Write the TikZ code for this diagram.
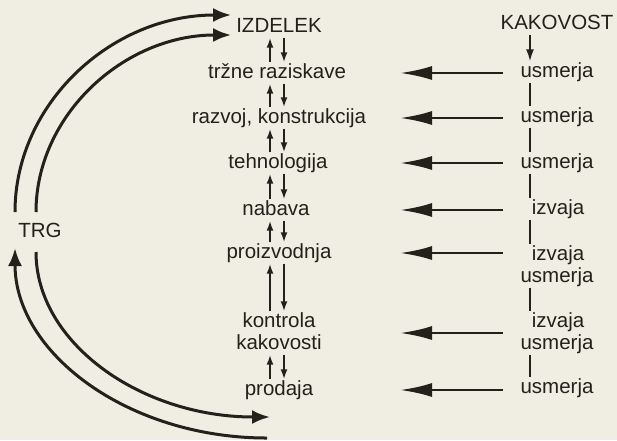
\documentclass[tikz,border=0pt]{standalone}
\usepackage{fontspec}
\setmainfont{Liberation Sans}
\usepackage{tikz}
\usetikzlibrary{arrows.meta,calc}
\definecolor{ink}{RGB}{36,32,28}
\definecolor{paper}{RGB}{240,237,226}
\tikzstyle{stage}=[font=\fontsize{20.5}{24}\selectfont,text=ink,inner sep=1pt,text height=15pt,text depth=4pt]
\tikzstyle{flow} = [draw=ink,line width=1.8pt,-{Latex[length=10pt,width=7pt]}]
\tikzstyle{steer} = [draw=ink,line width=2.8pt,-{Latex[length=32pt,width=14pt]}]
\tikzstyle{market} = [draw=ink,line width=3pt,-{Latex[length=18pt,width=14pt]}]
\tikzstyle{link} = [draw=ink,line width=1.8pt]

\begin{document}
\begin{tikzpicture}[x=1pt,y=-1pt]
    \fill[paper] (0,0) rectangle (617,440);
    \useasboundingbox (0,0) rectangle (617,440);
    % The stages of the product, top to bottom
    \foreach \pos/ \name/ \txt in {{(279,27)/c0/IZDELEK},{(277,73)/c1/tržne raziskave},
        {(279,118)/c2/{razvoj, konstrukcija}},{(278,163)/c3/tehnologija},{(276,210)/c4/nabava},
        {(279,253)/c5/proizvodnja},{(279,322)/c6/kontrola},{(279,344)/c7/kakovosti},{(279,390)/c8/prodaja}}
        \node[stage] (\name) at \pos {\txt};

    % What quality does at each stage
    \foreach \pos/ \name/ \txt in {{(557,24)/k0/KAKOVOST},{(557,72)/k1/usmerja},{(557,117)/k2/usmerja},
        {(557,163)/k3/usmerja},{(558,209)/k4/izvaja},{(558,255)/k5/izvaja},{(557,277)/k6/usmerja},
        {(558,322)/k7/izvaja},{(557,344)/k8/usmerja},{(557,388)/k9/usmerja}}
        \node[stage] (\name) at \pos {\txt};

    \node[stage] (trg) at (40,232) {TRG};

    % Columns for the arrows
    \coordinate (up) at (270,0);
    \coordinate (dn) at (284,0);
    \coordinate (rl) at (530,0);
    \coordinate (tail) at (503,0);
    \coordinate (tip) at (400,0);
    \coordinate (qc) at ($(c6)!0.5!(c7)$);

    % Up and down between the stages
    \foreach \a/ \b in {c0/c1,c1/c2,c2/c3,c3/c4,c4/c5,c5/c6,c7/c8} {
        \draw[flow] (\b.north -| up) -- (\a.south -| up);
        \draw[flow] (\a.south -| dn) -- (\b.north -| dn);
    }

    % Quality column
    \draw[link,-{Latex[length=12pt,width=8pt]}] (k0.south -| rl) -- (k1.north -| rl);
    \foreach \a/ \b in {k1/k2,k2/k3,k3/k4,k4/k5,k6/k7,k8/k9}
        \path[link] (\a.south -| rl) -- (\b.north -| rl);

    \foreach \r in {c1,c2,c3,c4,c5,qc,c8}
        \path[steer] (\r -| tail) -- (\r -| tip);

    % Market loop
    \coordinate (o1) at (15,212);
    \coordinate (i1) at (36,212);
    \coordinate (o2) at (267,438);
    \coordinate (o3) at (15,248);
    \coordinate (i3) at (36,252);
    \coordinate (i2) at (270,417);
    \draw[market] (o1) .. controls (15,104) and (111,15) .. ([shift={(-4pt,12pt)}]c0.west);
    \draw[market] (i1) .. controls (36,115) and (124,35) .. ([shift={(-4pt,-8pt)}]c0.west);
    \draw[market] (o2) .. controls (128,438) and (15,353) .. (o3);
    \draw[market] (i3) .. controls (36,343) and (141,417) .. (i2);
\end{tikzpicture}
\end{document}
